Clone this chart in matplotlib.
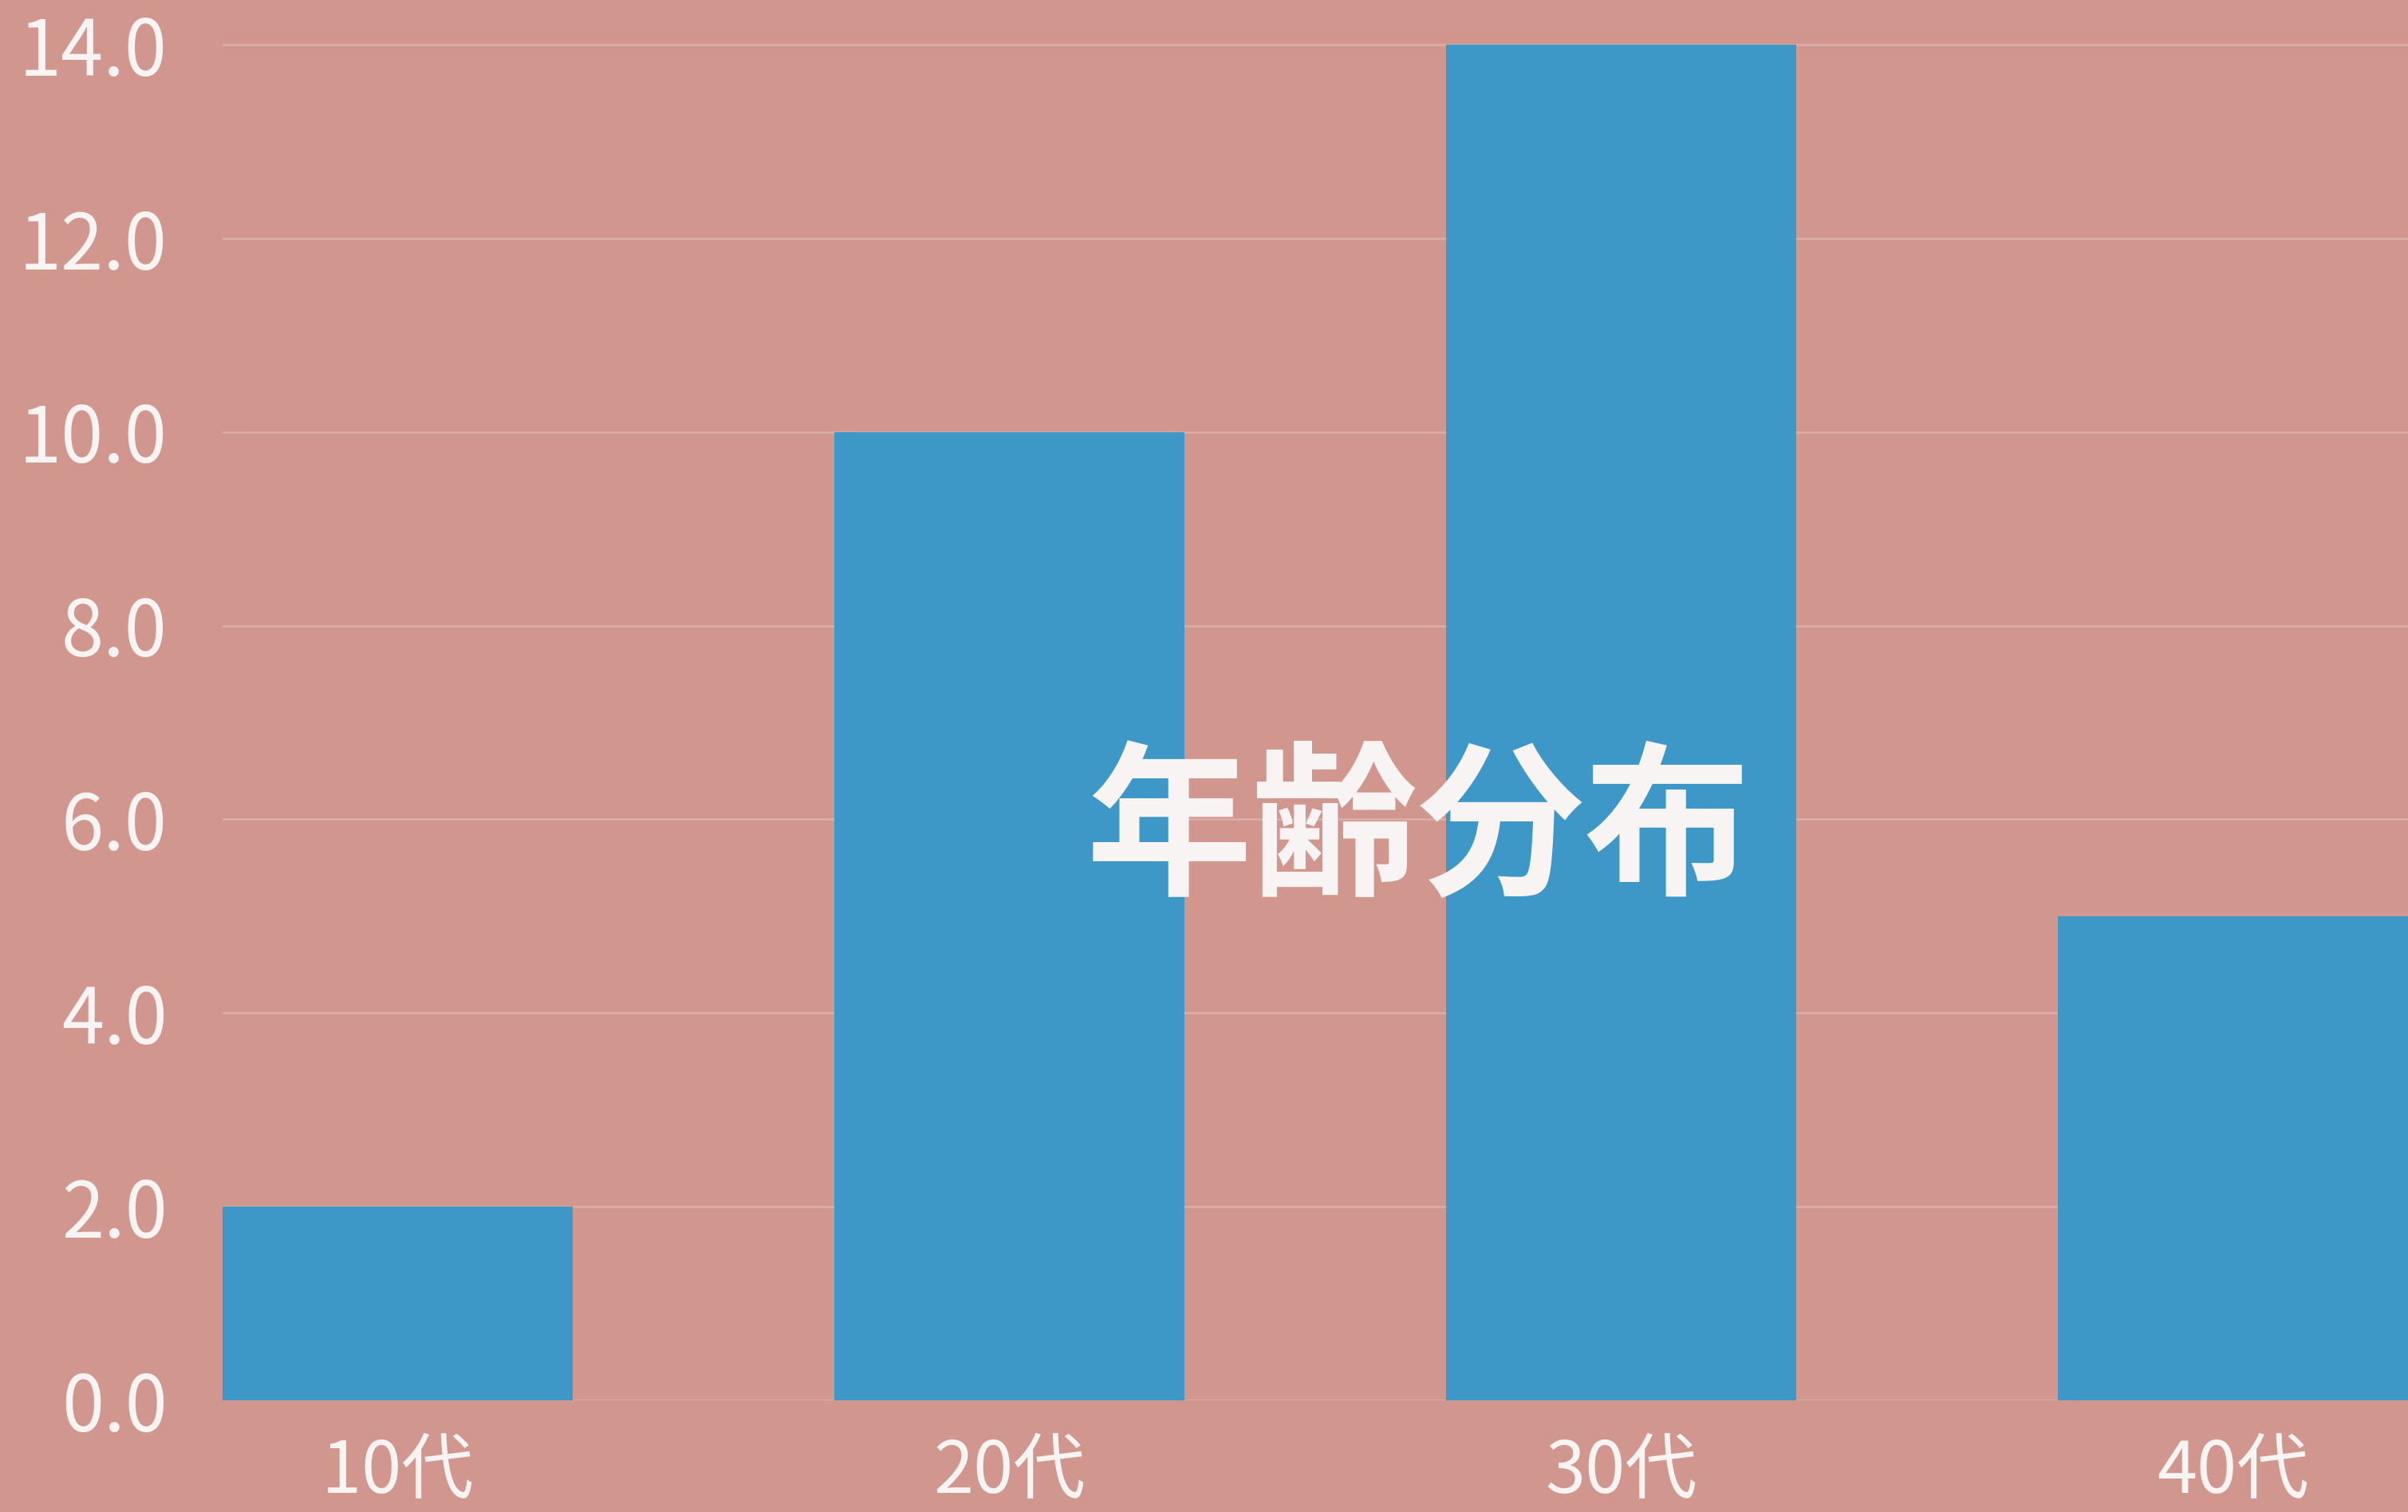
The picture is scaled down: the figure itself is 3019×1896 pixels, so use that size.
import matplotlib
matplotlib.use("Agg")
import matplotlib.pyplot as plt
import numpy as np

# age distribution
categories = ["10代", "20代", "30代", "40代"]
counts = [2, 10, 14, 5]
yticks = [0, 2, 4, 6, 8, 10, 12, 14]
title = "年齢分布"

bg = "#D1978F"
bar_color = "#3E98C7"
text_color = "#F8F4F4"
grid_color = "#DBADA6"

plt.rcParams['font.family'] = ['Noto Sans CJK JP', 'DejaVu Sans']

fig = plt.figure(figsize=(30.19, 18.96), dpi=100)
fig.patch.set_facecolor(bg)
ax = fig.add_axes([0.0925, 0.0738, 0.9075, 0.9262])
ax.set_facecolor(bg)

width = 0.572
x = np.arange(len(categories))
ax.bar(x, counts, width=width, color=bar_color, zorder=2)

ax.set_xlim(-width / 2, len(categories) - 1 + width / 2)
ax.set_ylim(0, 14.46)
ax.set_yticks(yticks)
ax.set_yticklabels([f"{v:.1f}" for v in yticks])
ax.set_xticks(x)
ax.set_xticklabels(categories)

ax.grid(axis='y', color=grid_color, linewidth=2, zorder=0)
ax.set_axisbelow(True)
for s in ax.spines.values():
    s.set_visible(False)
ax.tick_params(axis='both', length=0, colors=text_color)
ax.tick_params(axis='y', labelsize=69, pad=50)
ax.tick_params(axis='x', labelsize=65, pad=32)

fig.text(0.589, 0.449, title, color=text_color, fontsize=150,
         fontweight='bold', ha='center', va='center')

fig.savefig("out.png", dpi=100, facecolor=bg)
